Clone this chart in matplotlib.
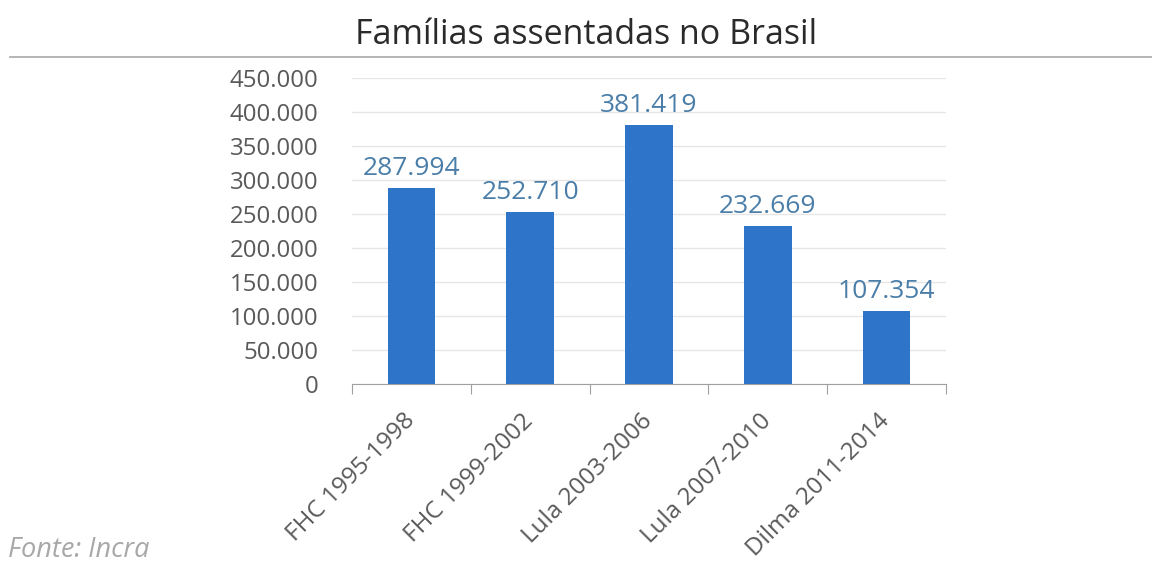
import numpy as np
import matplotlib.pyplot as plt
from matplotlib.ticker import FuncFormatter

categories = ["FHC 1995-1998", "FHC 1999-2002", "Lula 2003-2006",
              "Lula 2007-2010", "Dilma 2011-2014"]
familias = [287994, 252710, 381419, 232669, 107354]
yticks = list(range(0, 450001, 50000))

BAR = "#2E75C9"
LBL = "#4A7EA8"
TXT = "#595959"

def br_fmt(v, _pos=None):
    return f"{int(v):,}".replace(",", ".")

fig = plt.figure(figsize=(11.52, 5.68), dpi=100)
ax = fig.add_axes([0.3056, 0.324, 0.5155, 0.5387])

x = np.arange(len(categories))
ax.bar(x, familias, width=0.4, color=BAR, zorder=3)
for xi, v in zip(x, familias):
    ax.text(xi, v + 19000, br_fmt(v), ha="center", va="baseline",
            fontsize=19, color=LBL, family="Open Sans")

ax.set_xlim(-0.5, len(categories) - 0.5)
ax.set_ylim(0, 450000)
ax.set_yticks(yticks)
ax.yaxis.set_major_formatter(FuncFormatter(br_fmt))
ax.grid(axis="y", color="#E6E6E6", lw=1, zorder=0)
ax.tick_params(axis="y", length=0, pad=24, labelsize=17.3, labelcolor=TXT)
for lab in ax.get_yticklabels():
    lab.set_family("Open Sans")

# tick marks on category boundaries, labels under bar centres
ax.set_xticks(np.arange(-0.5, len(categories)), minor=False)
ax.set_xticklabels([])
ax.set_xticks(x, minor=True)
ax.set_xticklabels(categories, minor=True, rotation=45, ha="right", va="center",
                   rotation_mode="anchor", fontsize=17.5, color=TXT,
                   family="Open Sans")
ax.tick_params(axis="x", which="major", length=7.5, color="#A0A0A0", direction="out")
ax.tick_params(axis="x", which="minor", length=0, pad=24)
for s in ["top", "right", "left"]:
    ax.spines[s].set_visible(False)
ax.spines["bottom"].set_color("#A0A0A0")

fig.text(0.509, 0.938, "Famílias assentadas no Brasil", ha="center", va="center",
         fontsize=24.5, color="#2A2A2A", family="Open Sans")
fig.add_artist(plt.Line2D([0.009, 1.0], [0.899, 0.899], color="#A8A8A8", lw=1.2,
                          transform=fig.transFigure))
fig.text(0.007, 0.031, "Fonte: Incra", ha="left", va="center", fontsize=19.5,
         color="#A8A8A8", style="italic", family="Open Sans")

fig.savefig("out.png", dpi=100)
